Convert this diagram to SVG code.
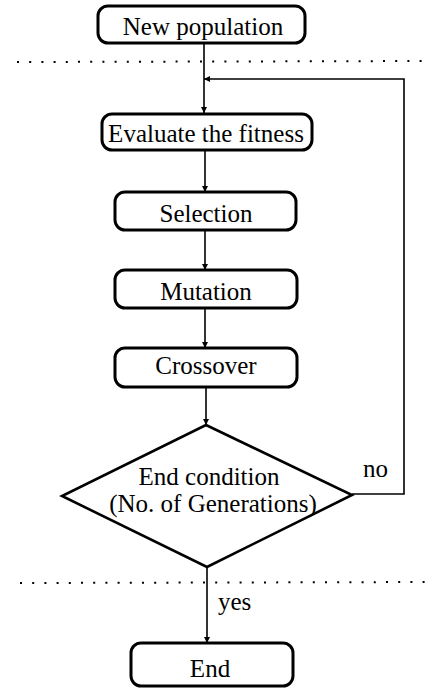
<svg xmlns="http://www.w3.org/2000/svg" width="431" height="688" viewBox="0 0 431 688">
  <style>
    .box { fill: #fff; stroke: #000; stroke-width: 3; }
    .dia { fill: #fff; stroke: #000; stroke-width: 2.6; }
    .lbl { font-family: "Liberation Serif", "Times New Roman", serif; font-size: 25px; fill: #000; }
    .mid { text-anchor: middle; }
    .wire { fill: none; stroke: #000; stroke-width: 1.6; }
    .dots { fill: none; stroke: #000; stroke-width: 2; stroke-dasharray: 2 10.2; }
  </style>
  <defs>
    <marker id="arrow" viewBox="0 0 10 10" refX="10" refY="5" markerWidth="6" markerHeight="6" markerUnits="userSpaceOnUse" orient="auto">
      <path d="M0,0 L10,5 L0,10 Z" fill="#000"/>
    </marker>
  </defs>

  <rect width="431" height="688" fill="#fff"/>

  <!-- phase separators -->
  <g id="separators">
    <line class="dots" x1="17" y1="62" x2="431" y2="61"/>
    <line class="dots" x1="20" y1="583" x2="431" y2="582"/>
  </g>

  <!-- connectors -->
  <g id="connectors">
    <line class="wire" x1="204" y1="44" x2="204" y2="113" marker-end="url(#arrow)"/>
    <line class="wire" x1="205" y1="150" x2="205" y2="192" marker-end="url(#arrow)"/>
    <line class="wire" x1="205" y1="230" x2="205" y2="270" marker-end="url(#arrow)"/>
    <line class="wire" x1="205" y1="308" x2="205" y2="348" marker-end="url(#arrow)"/>
    <line class="wire" x1="206" y1="387" x2="206" y2="425" marker-end="url(#arrow)"/>
    <polyline class="wire" points="352,494 404,494 404,79 204,79" marker-end="url(#arrow)"/>
    <line class="wire" x1="207" y1="567" x2="207" y2="643" marker-end="url(#arrow)"/>
    <text class="lbl" x="363" y="477">no</text>
    <text class="lbl" x="218" y="610">yes</text>
  </g>

  <g id="new-population">
    <rect class="box" x="98" y="6" width="207" height="37" rx="10"/>
    <text class="lbl mid" x="203" y="35">New population</text>
  </g>

  <g id="evaluate">
    <rect class="box" x="102" y="114" width="210" height="36" rx="10"/>
    <text class="lbl mid" x="206" y="142">Evaluate the fitness</text>
  </g>

  <g id="selection">
    <rect class="box" x="115" y="192" width="181" height="38" rx="10"/>
    <text class="lbl mid" x="206" y="222">Selection</text>
  </g>

  <g id="mutation">
    <rect class="box" x="115" y="270" width="182" height="38" rx="10"/>
    <text class="lbl mid" x="206" y="300">Mutation</text>
  </g>

  <g id="crossover">
    <rect class="box" x="115" y="348" width="182" height="39" rx="10"/>
    <text class="lbl mid" x="206" y="374">Crossover</text>
  </g>

  <g id="end-condition">
    <polygon class="dia" points="206,425 352,495 207,567 62,496"/>
    <text class="lbl mid" x="209" y="485">End condition</text>
    <text class="lbl mid" x="213" y="512">(No. of Generations)</text>
  </g>

  <g id="end">
    <rect class="box" x="131" y="643" width="162" height="43" rx="10"/>
    <text class="lbl mid" x="210" y="677">End</text>
  </g>
</svg>
